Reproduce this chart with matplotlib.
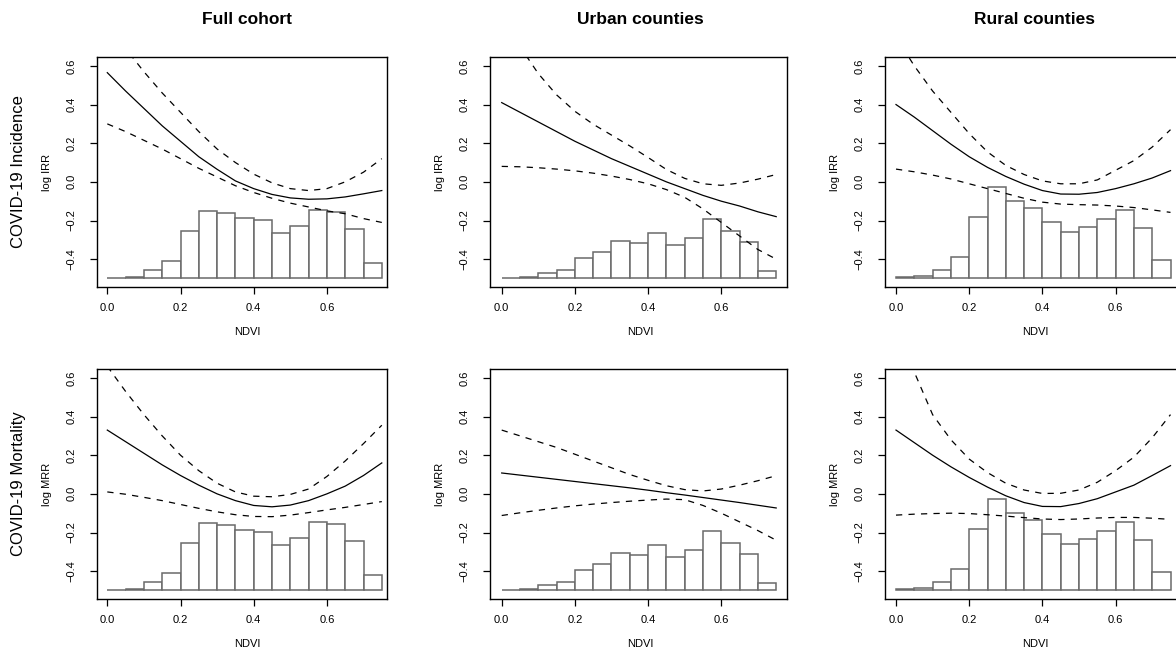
import matplotlib
matplotlib.use("Agg")
import matplotlib.pyplot as plt

plt.rcParams["font.family"] = ["Liberation Sans", "DejaVu Sans"]

ndvi = [0.00, 0.05, 0.10, 0.15, 0.20, 0.25, 0.30, 0.35,
        0.40, 0.45, 0.50, 0.55, 0.60, 0.65, 0.70, 0.75]

# histogram bins (left edges, width 0.05) and bar tops on the log-RR scale
bin_left = [0.00, 0.05, 0.10, 0.15, 0.20, 0.25, 0.30, 0.35,
            0.40, 0.45, 0.50, 0.55, 0.60, 0.65, 0.70]
hist_base = -0.5
hist_full = [-0.495, -0.490, -0.455, -0.412, -0.256, -0.153, -0.161, -0.187,
             -0.198, -0.265, -0.227, -0.147, -0.156, -0.244, -0.422]
hist_urban = [-0.497, -0.492, -0.469, -0.457, -0.393, -0.364, -0.308, -0.317,
              -0.263, -0.326, -0.291, -0.194, -0.253, -0.312, -0.462]
hist_rural = [-0.493, -0.487, -0.455, -0.390, -0.182, -0.028, -0.097, -0.135,
              -0.206, -0.260, -0.234, -0.191, -0.144, -0.237, -0.402]

# COVID-19 incidence (log IRR)
full_irr_fit = [0.565, 0.470, 0.380, 0.290, 0.210, 0.130, 0.065, 0.005,
                -0.035, -0.065, -0.083, -0.090, -0.088, -0.078, -0.062, -0.045]
full_irr_hi = [0.820, 0.690, 0.570, 0.460, 0.360, 0.260, 0.170, 0.100,
               0.040, -0.005, -0.035, -0.045, -0.035, 0.000, 0.050, 0.120]
full_irr_lo = [0.300, 0.260, 0.215, 0.170, 0.120, 0.070, 0.025, -0.020,
               -0.055, -0.085, -0.110, -0.130, -0.150, -0.165, -0.190, -0.210]

urban_irr_fit = [0.410, 0.360, 0.310, 0.260, 0.210, 0.165, 0.120, 0.080,
                 0.040, 0.000, -0.035, -0.070, -0.100, -0.125, -0.155, -0.180]
urban_irr_hi = [0.880, 0.700, 0.560, 0.450, 0.365, 0.298, 0.242, 0.186,
                0.126, 0.064, 0.018, -0.010, -0.018, -0.006, 0.014, 0.038]
urban_irr_lo = [0.080, 0.078, 0.073, 0.066, 0.057, 0.045, 0.030, 0.012,
                -0.010, -0.040, -0.080, -0.140, -0.210, -0.280, -0.350, -0.400]

rural_irr_fit = [0.400, 0.335, 0.265, 0.195, 0.130, 0.075, 0.028, -0.012,
                 -0.045, -0.063, -0.064, -0.055, -0.035, -0.010, 0.020, 0.058]
rural_irr_hi = [0.750, 0.600, 0.470, 0.360, 0.250, 0.155, 0.085, 0.038,
                0.005, -0.010, -0.010, 0.010, 0.060, 0.110, 0.180, 0.270]
rural_irr_lo = [0.066, 0.052, 0.035, 0.015, -0.010, -0.035, -0.060, -0.085,
                -0.105, -0.115, -0.118, -0.120, -0.125, -0.133, -0.145, -0.158]

# COVID-19 mortality (log MRR)
full_mrr_fit = [0.330, 0.270, 0.210, 0.150, 0.095, 0.045, 0.000, -0.035,
                -0.060, -0.067, -0.058, -0.035, 0.000, 0.040, 0.095, 0.160]
full_mrr_hi = [0.660, 0.530, 0.410, 0.300, 0.200, 0.120, 0.055, 0.010,
               -0.012, -0.015, -0.003, 0.025, 0.090, 0.170, 0.260, 0.355]
full_mrr_lo = [0.010, -0.002, -0.018, -0.035, -0.055, -0.075, -0.093, -0.108,
               -0.117, -0.118, -0.110, -0.097, -0.083, -0.070, -0.055, -0.040]

urban_mrr_fit = [0.108, 0.097, 0.086, 0.075, 0.064, 0.053, 0.042, 0.031,
                 0.019, 0.006, -0.006, -0.019, -0.032, -0.045, -0.059, -0.073]
urban_mrr_hi = [0.330, 0.300, 0.270, 0.240, 0.205, 0.170, 0.135, 0.100,
                0.070, 0.042, 0.022, 0.015, 0.025, 0.045, 0.068, 0.094]
urban_mrr_lo = [-0.112, -0.098, -0.085, -0.073, -0.062, -0.053, -0.045, -0.038,
                -0.032, -0.027, -0.030, -0.060, -0.100, -0.145, -0.190, -0.240]

rural_mrr_fit = [0.330, 0.265, 0.200, 0.140, 0.085, 0.035, -0.010, -0.045,
                 -0.065, -0.066, -0.050, -0.025, 0.010, 0.045, 0.095, 0.146]
rural_mrr_hi = [0.850, 0.630, 0.410, 0.280, 0.180, 0.110, 0.055, 0.020,
                0.002, 0.003, 0.020, 0.060, 0.120, 0.190, 0.290, 0.410]
rural_mrr_lo = [-0.110, -0.105, -0.102, -0.100, -0.102, -0.108, -0.115, -0.123,
                -0.130, -0.133, -0.130, -0.125, -0.122, -0.122, -0.126, -0.132]

col_titles = ["Full cohort", "Urban counties", "Rural counties"]
row_titles = ["COVID-19 Incidence", "COVID-19 Mortality"]
row_ylabels = ["log IRR", "log MRR"]

panels = [
    [(hist_full, full_irr_fit, full_irr_lo, full_irr_hi),
     (hist_urban, urban_irr_fit, urban_irr_lo, urban_irr_hi),
     (hist_rural, rural_irr_fit, rural_irr_lo, rural_irr_hi)],
    [(hist_full, full_mrr_fit, full_mrr_lo, full_mrr_hi),
     (hist_urban, urban_mrr_fit, urban_mrr_lo, urban_mrr_hi),
     (hist_rural, rural_mrr_fit, rural_mrr_lo, rural_mrr_hi)],
]

# layout in pixels (figure is 1176 x 659)
W, H = 1176, 659
col_left = [97, 490, 885]
col_right = [387, 787, 1182]
col_zero = [107.3, 501.7, 896.0]   # pixel of NDVI = 0 in each column
px_per_unit = 366.0
row_top = [57, 369]
row_bottom = [287, 599]
ylim = (-0.544, 0.646)

fig = plt.figure(figsize=(W / 100, H / 100), dpi=100)

for r in range(2):
    for c in range(3):
        left, right = col_left[c], col_right[c]
        ax = fig.add_axes([left / W, 1 - row_bottom[r] / H,
                           (right - left) / W, (row_bottom[r] - row_top[r]) / H])
        hist, fit, lo, hi = panels[r][c]

        heights = [t - hist_base for t in hist]
        ax.bar(bin_left, heights, width=0.05, bottom=hist_base, align="edge",
               color="white", edgecolor="#6a6a6a", linewidth=1.1, zorder=1)
        ax.plot(ndvi, fit, color="black", linewidth=0.9, zorder=3)
        for band in (lo, hi):
            ax.plot(ndvi, band, color="black", linewidth=0.9,
                    linestyle=(0, (5, 5)), zorder=3)

        ax.set_xlim((left - col_zero[c]) / px_per_unit,
                    (right - col_zero[c]) / px_per_unit)
        ax.set_ylim(*ylim)
        ax.set_xticks([0.0, 0.2, 0.4, 0.6])
        ax.set_xticklabels(["0.0", "0.2", "0.4", "0.6"])
        ax.set_yticks([-0.4, -0.2, 0.0, 0.2, 0.4, 0.6])
        ax.set_yticklabels(["\u22120.4", "\u22120.2", "0.0", "0.2", "0.4", "0.6"],
                           rotation=90, va="center")
        ax.tick_params(axis="both", direction="out", length=5, width=0.9,
                       labelsize=8, colors="black")
        ax.tick_params(axis="x", pad=6.5)
        ax.tick_params(axis="y", pad=10)
        for sp in ax.spines.values():
            sp.set_linewidth(1.0)
            sp.set_color("black")

        # axis labels, placed like R's mtext
        fig.text((left + 150) / W, 1 - (row_bottom[r] + 45) / H, "NDVI",
                 ha="center", va="center", fontsize=8)
        fig.text((left - 50) / W, 1 - (row_top[r] + row_bottom[r]) / 2 / H,
                 row_ylabels[r], rotation=90, ha="center", va="center",
                 fontsize=8)

for c in range(3):
    fig.text((col_left[c] + 150) / W, 1 - 20 / H, col_titles[c],
             ha="center", va="center", fontsize=12.5, fontweight="bold")
for r in range(2):
    fig.text(19 / W, 1 - (row_top[r] + row_bottom[r]) / 2 / H, row_titles[r],
             rotation=90, ha="center", va="center", fontsize=12)

fig.savefig("out.png", dpi=100)
